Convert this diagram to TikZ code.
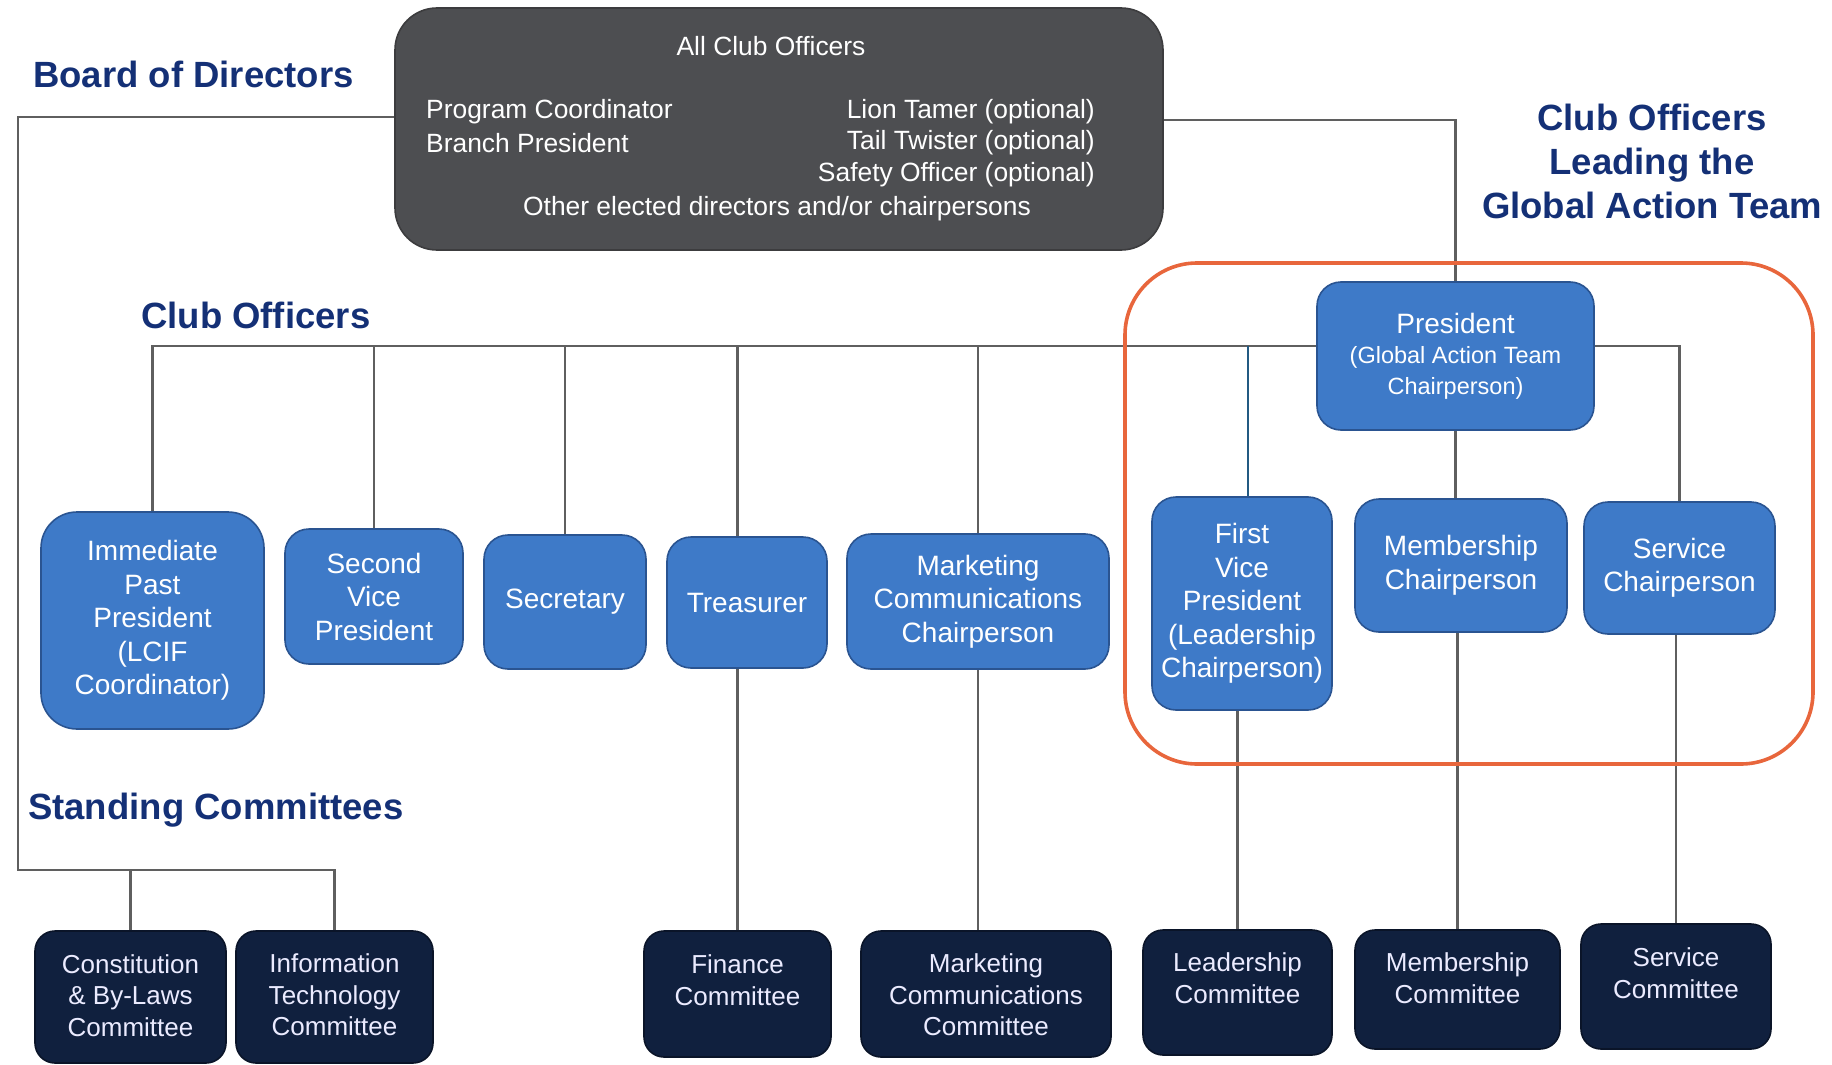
\documentclass[tikz,border=0pt]{standalone}
\usepackage{fontspec}
\setmainfont{Liberation Sans}
\usetikzlibrary{backgrounds}
\definecolor{titleblue}{RGB}{20,48,118}
\definecolor{bluefill}{RGB}{62,122,200}
\definecolor{bluedraw}{RGB}{42,84,145}
\definecolor{navyfill}{RGB}{16,32,62}
\definecolor{navydraw}{RGB}{10,20,40}
\definecolor{darkfill}{RGB}{77,78,81}
\definecolor{darkdraw}{RGB}{60,60,62}
\definecolor{linegray}{RGB}{95,95,95}
\definecolor{tealline}{RGB}{35,90,130}
\definecolor{gatorange}{RGB}{232,102,60}
\begin{document}
\begin{tikzpicture}[x=1pt,y=-1pt,
  bluebox/.style={draw=bluedraw, fill=bluefill, line width=1.6pt, rounded corners=24pt, text=white, align=center, inner sep=0pt, font=\fontsize{28}{33.5}\selectfont},
  navybox/.style={draw=navydraw, fill=navyfill, line width=1.6pt, rounded corners=20pt, inner sep=0pt},
  navytext/.style={text=white!92!blue, align=center, inner sep=0pt, font=\fontsize{26}{31.5}\selectfont},
  darkbox/.style={draw=darkdraw, fill=darkfill, line width=1.6pt, rounded corners=42pt, inner sep=0pt},
  darktext/.style={text=white, inner sep=0pt, font=\fontsize{26.4}{31.5}\selectfont},
  heading/.style={text=titleblue, inner sep=0pt, align=center, font=\bfseries\fontsize{36.5}{44}\selectfont},
  conn/.style={draw=linegray, line width=2.3pt},
  gatbox/.style={draw=gatorange, line width=3.6pt, rounded corners=72pt, inner sep=0pt}
]
\useasboundingbox (0,0) rectangle (1832,1065);

% headings
\node[heading, anchor=west] (hbod) at (33,74) {Board of Directors};
\node[heading, anchor=west] (hco) at (141,315) {Club Officers};
\node[heading, anchor=west] (hsc) at (28,810) {Standing Committees};
\node[heading] (hgat) at (1652,161) {Club Officers\\Leading the\\Global Action Team};

% board of directors box
\node[darkbox, minimum width=768pt, minimum height=242pt] (dark) at (779,129) {};
\node[darktext] (dall) at (771,46) {All Club Officers};
\node[darktext, anchor=west] (dpc) at (426,112) {Program Coordinator};
\node[darktext, anchor=west] (dbp) at (426,143) {Branch President};
\node[darktext, anchor=east] (dlt) at (1095,112) {Lion Tamer (optional)};
\node[darktext, anchor=east] (dtt) at (1095,143) {Tail Twister (optional)};
\node[darktext, anchor=east] (dso) at (1095,175) {Safety Officer (optional)};
\node[darktext] (doe) at (777,209) {Other elected directors and/or chairpersons};

% global action team frame
\node[gatbox, minimum width=688pt, minimum height=501pt] (gat) at (1469,513.5) {};

% club officers
\node[bluebox, minimum width=277pt, minimum height=148pt] (pres) at (1455.5,356)
  {President\\[-3pt]{\fontsize{23.5}{28}\selectfont (Global Action Team}\\[-3pt]{\fontsize{23.5}{28}\selectfont Chairperson)}};
\node[bluebox, rounded corners=36pt, minimum width=223pt, minimum height=217pt] (ipp) at (152.5,620.5)
  {Immediate\\Past\\President\\(LCIF\\Coordinator)};
\node[bluebox, minimum width=178pt, minimum height=135pt] (svp) at (374,596.5) {Second\\Vice\\President};
\node[bluebox, minimum width=162pt, minimum height=134pt] (sec) at (565,602) {Secretary};
\node[bluebox, minimum width=160pt, minimum height=131pt] (tre) at (747,602.5) {Treasurer};
\node[bluebox, minimum width=262pt, minimum height=135pt] (mcc) at (978,601.5) {Marketing\\Communications\\Chairperson};
\node[bluebox, minimum width=180pt, minimum height=213pt] (fvp) at (1242,603.5) {First\\Vice\\President\\(Leadership\\Chairperson)};
\node[bluebox, minimum width=212pt, minimum height=133pt] (mch) at (1461,565.5) {Membership\\Chairperson};
\node[bluebox, minimum width=191pt, minimum height=132pt] (sch) at (1679.5,568) {Service\\Chairperson};

% standing committees
\node[navybox, minimum width=191pt, minimum height=132pt] (con) at (130.5,997) {};
\node[navytext] (cont) at (130.5,995.5) {Constitution\\\& By-Laws\\Committee};
\node[navybox, minimum width=197pt, minimum height=132pt] (itc) at (334.5,997) {};
\node[navytext] (itct) at (334.5,995) {Information\\Technology\\Committee};
\node[navybox, minimum width=187pt, minimum height=126pt] (fin) at (737.5,994) {};
\node[navytext] (fint) at (737.5,980) {Finance\\Committee};
\node[navybox, minimum width=250pt, minimum height=126pt] (mcm) at (986,994) {};
\node[navytext] (mcmt) at (986,995) {Marketing\\Communications\\Committee};
\node[navybox, minimum width=189pt, minimum height=125pt] (lea) at (1237.5,992.5) {};
\node[navytext] (leat) at (1237.5,978) {Leadership\\Committee};
\node[navybox, minimum width=205pt, minimum height=119pt] (mem) at (1457.5,989.5) {};
\node[navytext] (memt) at (1457.5,978) {Membership\\Committee};
\node[navybox, minimum width=190pt, minimum height=125pt] (ser) at (1676,986.5) {};
\node[navytext] (sert) at (1676,973) {Service\\Committee};

\coordinate (bar) at (0,346);
\coordinate (sbar) at (18,870);

\begin{pgfonlayer}{background}
  % board of directors to standing committees
  \draw[conn] ([yshift=12pt]dark.west) -| (sbar) -| (itc.north);
  \draw[conn] (con.north |- sbar) -- (con.north);
  % board to president
  \draw[conn] ([yshift=9pt]dark.east) -| (pres.north);
  % club officers bar
  \draw[conn] ([yshift=10pt]pres.west) -| (ipp.north);
  \draw[conn] (svp.north |- bar) -- (svp.north);
  \draw[conn] (sec.north |- bar) -- (sec.north);
  \draw[conn] (fin.north |- bar) -- (fin.north |- tre.north);
  \draw[conn] (mcc.north |- bar) -- (mcc.north);
  \draw[conn, draw=tealline] ([xshift=6pt]fvp.north |- bar) -- ([xshift=6pt]fvp.north);
  \draw[conn] ([yshift=10pt]pres.east) -| (sch.north);
  \draw[conn] (pres.south) -- (pres.south |- mch.north);
  % officers to committees
  \draw[conn] (fin.north |- tre.south) -- (fin.north);
  \draw[conn] (mcm.north -| mcc.south) -- (mcc.south);
  \draw[conn] (lea.north |- fvp.south) -- (lea.north);
  \draw[conn] (mem.north |- mch.south) -- (mem.north);
  \draw[conn] (ser.north |- sch.south) -- (ser.north);
\end{pgfonlayer}
\end{tikzpicture}
\end{document}
